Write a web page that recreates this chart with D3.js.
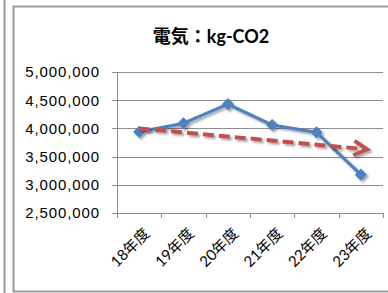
<!DOCTYPE html>
<html>
<head>
<meta charset="utf-8">
<script src="https://cdn.jsdelivr.net/npm/d3@7"></script>
<style>
body { margin: 0; background: #fff; }
svg { display: block; font-family: Lato, "Noto Sans CJK JP", sans-serif; }
.grid line { stroke: #8c8c8c; stroke-width: 1px; shape-rendering: crispEdges; }
.axis path, .axis line { stroke: #8c8c8c; stroke-width: 1px; shape-rendering: crispEdges; }
.axis text { fill: #000; font-size: 15px; }
.line { fill: none; stroke: #4f81bd; stroke-width: 3.2px; stroke-linejoin: round; }
.marker { fill: #4f81bd; }
.arrow { fill: none; stroke: #c0504d; stroke-width: 4px; }
</style>
</head>
<body>
<svg id="chart" width="388" height="293"></svg>
<script>
// data
var categories = ["18年度", "19年度", "20年度", "21年度", "22年度", "23年度"];
var values = [3940000, 4090000, 4430000, 4060000, 3930000, 3180000];
var yTicks = [2500000, 3000000, 3500000, 4000000, 4500000, 5000000];
// hand drawn trend arrow: [category index, value]
var arrowFrom = [0, 4000000];
var arrowTo = [5.14, 3630000];
var title = "電気：kg-CO2";

var svg = d3.select("#chart");
var plotL = 117, plotR = 383, plotT = 72, plotB = 213;

// outer frames
svg.append("line").attr("x1", 4.5).attr("x2", 4.5).attr("y1", 0).attr("y2", 293)
  .attr("stroke", "#9a9a9a").attr("stroke-width", 2);
svg.append("rect").attr("x", 13.5).attr("y", 6.5).attr("width", 400).attr("height", 285)
  .attr("fill", "#fff").attr("stroke", "#9a9a9a").attr("stroke-width", 2);

svg.append("text").attr("x", 211).attr("y", 43).attr("text-anchor", "middle")
  .attr("font-size", "18px").attr("font-weight", "bold").text(title);

var x = d3.scaleBand().domain(categories).range([plotL, plotR]);
var xi = d3.scaleLinear().domain([-0.5, categories.length - 0.5]).range([plotL, plotR]);
var y = d3.scaleLinear().domain([2500000, 5000000]).range([plotB, plotT]);

// gridlines
svg.append("g").attr("class", "grid")
  .selectAll("line").data(yTicks.slice(1)).enter().append("line")
  .attr("x1", plotL - 5).attr("x2", plotR)
  .attr("y1", function(d) { return Math.round(y(d)) + 0.5; })
  .attr("y2", function(d) { return Math.round(y(d)) + 0.5; });

var yAxis = d3.axisLeft(y).tickValues(yTicks).tickSize(5).tickPadding(12)
  .tickFormat(d3.format(","));
svg.append("g").attr("class", "axis").attr("transform", "translate(" + plotL + ",0)")
  .call(yAxis)
  .call(function(g) { g.select(".domain").remove(); })
  .call(function(g) {
    g.append("line").attr("x1", 0.5).attr("x2", 0.5).attr("y1", plotT).attr("y2", plotB);
  })
  .selectAll("text").attr("letter-spacing", "0.9px");

// bottom axis with ticks at band edges
var xAxis = svg.append("g").attr("class", "axis").attr("transform", "translate(0," + plotB + ")");
xAxis.append("line").attr("x1", plotL).attr("x2", plotR).attr("y1", 0.5).attr("y2", 0.5);
xAxis.selectAll(".edge").data(d3.range(categories.length + 1)).enter().append("line")
  .attr("class", "edge")
  .attr("x1", function(d) { return Math.round(xi(d - 0.5)) + 0.5; })
  .attr("x2", function(d) { return Math.round(xi(d - 0.5)) + 0.5; })
  .attr("y1", 0).attr("y2", 5);
xAxis.selectAll(".lbl").data(categories).enter().append("text")
  .attr("class", "lbl")
  .attr("text-anchor", "end")
  .attr("transform", function(d) {
    return "translate(" + (x(d) + x.bandwidth() / 2 + 4) + ",14) rotate(-45)";
  })
  .attr("dy", "0.7em")
  .text(function(d) { return d; });

// shadow filter
var defs = svg.append("defs");
var f = defs.append("filter").attr("id", "shadow").attr("x", "-20%").attr("y", "-20%")
  .attr("width", "140%").attr("height", "160%");
f.append("feGaussianBlur").attr("in", "SourceAlpha").attr("stdDeviation", 1.2);
f.append("feOffset").attr("dx", 1.5).attr("dy", 2).attr("result", "b");
f.append("feComponentTransfer").append("feFuncA").attr("type", "linear").attr("slope", 0.35);
var m = f.append("feMerge");
m.append("feMergeNode");
m.append("feMergeNode").attr("in", "SourceGraphic");

// data line
var pts = values.map(function(v, i) { return [x(categories[i]) + x.bandwidth() / 2, y(v)]; });
var series = svg.append("g").attr("filter", "url(#shadow)");
series.append("path").attr("class", "line").attr("d", d3.line()(pts));
series.selectAll(".marker").data(pts).enter().append("path")
  .attr("class", "marker")
  .attr("transform", function(d) { return "translate(" + d[0] + "," + d[1] + ")"; })
  .attr("d", d3.symbol(d3.symbolDiamond2, 95)());

// trend arrow
var ax0 = xi(arrowFrom[0]), ay0 = y(arrowFrom[1]);
var ax1 = xi(arrowTo[0]), ay1 = y(arrowTo[1]);
var ang = Math.atan2(ay1 - ay0, ax1 - ax0);
var arr = svg.append("g").attr("filter", "url(#shadow)");
arr.append("line").attr("class", "arrow")
  .attr("x1", ax0).attr("y1", ay0)
  .attr("x2", ax1 - 3 * Math.cos(ang)).attr("y2", ay1 - 3 * Math.sin(ang))
  .attr("stroke-dasharray", "11,5");
var hl = 15, ha = 0.5;
arr.append("path").attr("class", "arrow").attr("stroke-linejoin", "miter")
  .attr("d", d3.line()([
    [ax1 - hl * Math.cos(ang - ha), ay1 - hl * Math.sin(ang - ha)],
    [ax1, ay1],
    [ax1 - hl * Math.cos(ang + ha), ay1 - hl * Math.sin(ang + ha)]
  ]));
</script>
</body>
</html>
